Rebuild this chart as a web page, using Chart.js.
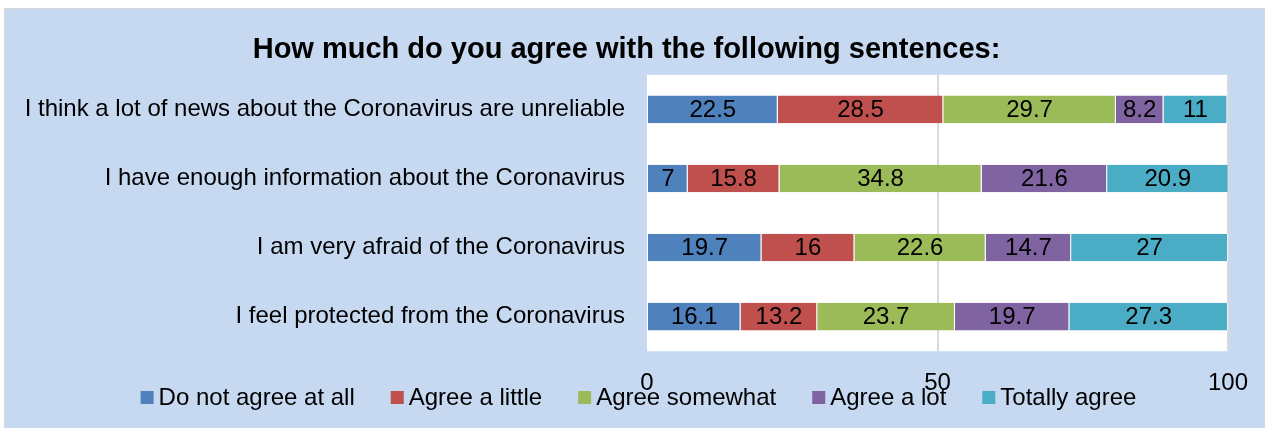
<!DOCTYPE html>
<html>
    <head>
        <meta charset="utf-8">
        <title>Coronavirus survey</title>
        <style>
            body { margin: 0; background: #ffffff; }
            .frame {
                position: absolute;
                left: 4px;
                top: 8px;
                width: 1259px;
                height: 419px;
                border: 1px solid #d9d9d9;
                border-bottom: none;
                background: #c6d9f1;
            }
        </style>
    </head>
    <body>
        <div class="frame">
            <canvas id="agree" width="1259" height="419"></canvas>
        </div>
        <script src="https://cdn.jsdelivr.net/npm/chart.js"></script>
        <script>
            // Survey answers, percent per statement
            const statements = [
                'I think a lot of news about the Coronavirus are unreliable',
                'I have enough information about the Coronavirus',
                'I am very afraid of the Coronavirus',
                'I feel protected from the Coronavirus'
            ];
            const doNotAgree = [22.5, 7, 19.7, 16.1];
            const agreeLittle = [28.5, 15.8, 16, 13.2];
            const agreeSomewhat = [29.7, 34.8, 22.6, 23.7];
            const agreeLot = [8.2, 21.6, 14.7, 19.7];
            const totallyAgree = [11, 20.9, 27, 27.3];
            const xTicks = [0, 50, 100];

            const font = 'Liberation Sans, Arial, sans-serif';

            // white plot area behind the bars
            const plotBackground = {
                id: 'plotBackground',
                beforeDraw(chart) {
                    const a = chart.chartArea;
                    const c = chart.ctx;
                    c.save();
                    c.fillStyle = '#ffffff';
                    c.fillRect(a.left, a.top, a.right - a.left, a.bottom - a.top);
                    c.restore();
                }
            };

            // numbers in the middle of every segment
            const segmentLabels = {
                id: 'segmentLabels',
                afterDatasetsDraw(chart) {
                    const c = chart.ctx;
                    c.save();
                    c.font = '24px ' + font;
                    c.fillStyle = '#000000';
                    c.textAlign = 'center';
                    c.textBaseline = 'middle';
                    chart.data.datasets.forEach((ds, i) => {
                        chart.getDatasetMeta(i).data.forEach((bar, j) => {
                            const p = bar.getProps(['x', 'y', 'base'], true);
                            c.fillText(ds.data[j], (p.x + p.base) / 2, p.y + 1);
                        });
                    });
                    c.restore();
                }
            };

            // compact legend row along the bottom edge
            const bottomLegend = {
                id: 'bottomLegend',
                afterDraw(chart) {
                    const c = chart.ctx;
                    const box = 13, gap = 5, spacing = 36;
                    c.save();
                    c.font = '24px ' + font;
                    c.textBaseline = 'alphabetic';
                    const items = chart.data.datasets.map(ds => ({
                        text: ds.label,
                        color: ds.backgroundColor,
                        w: box + gap + c.measureText(ds.label).width
                    }));
                    const total = items.reduce((s, it) => s + it.w, 0) + spacing * (items.length - 1);
                    let x = chart.width / 2 + 4 - total / 2;
                    const baseY = 396;
                    items.forEach(it => {
                        c.fillStyle = it.color;
                        c.fillRect(x, baseY - 14, box, box);
                        c.fillStyle = '#000000';
                        c.fillText(it.text, x + box + gap, baseY);
                        x += it.w + spacing;
                    });
                    c.restore();
                }
            };

            function series(label, data, color) {
                return {
                    label: label,
                    data: data,
                    backgroundColor: color,
                    borderColor: 'rgba(255,255,255,0.55)',
                    borderWidth: { right: 1 },
                    borderSkipped: false,
                    barPercentage: 0.4,
                    categoryPercentage: 1.0
                };
            }

            let ctx = document.querySelector('#agree').getContext('2d');
            let chart = new Chart(ctx, {
                type: 'bar',
                data: {
                    labels: statements,
                    datasets: [
                        series('Do not agree at all', doNotAgree, '#4f81bd'),
                        series('Agree a little', agreeLittle, '#c0504d'),
                        series('Agree somewhat', agreeSomewhat, '#9bbb59'),
                        series('Agree a lot', agreeLot, '#8064a2'),
                        series('Totally agree', totallyAgree, '#4bacc6')
                    ]
                },
                options: {
                    indexAxis: 'y',
                    responsive: false,
                    animation: false,
                    devicePixelRatio: 1,
                    layout: {
                        padding: { left: 20, right: 36, top: 0, bottom: 12 }
                    },
                    scales: {
                        x: {
                            stacked: true,
                            min: 0,
                            max: 100,
                            afterBuildTicks(axis) {
                                axis.ticks = xTicks.map(v => ({ value: v }));
                            },
                            // the "100" label may hang past the plot edge
                            afterFit(axis) {
                                axis.paddingRight = 0;
                            },
                            grid: {
                                drawTicks: false,
                                lineWidth: 2,
                                color: c => c.tick && c.tick.value === 0 ? 'rgba(0,0,0,0)' : '#d9d9d9'
                            },
                            border: { display: false },
                            ticks: {
                                padding: 18,
                                color: '#000000',
                                font: { family: font, size: 24 }
                            }
                        },
                        y: {
                            stacked: true,
                            // long statements need more than half the width
                            afterFit(axis) {
                                axis.width = 622;
                            },
                            grid: { display: false, drawTicks: false },
                            border: { display: false },
                            ticks: {
                                padding: 22,
                                color: '#000000',
                                font: { family: font, size: 24 }
                            }
                        }
                    },
                    plugins: {
                        title: {
                            display: true,
                            text: 'How much do you agree with the following sentences:',
                            color: '#000000',
                            font: { family: font, size: 29, weight: 'bold' },
                            padding: { top: 24, bottom: 7 }
                        },
                        legend: { display: false },
                        tooltip: { enabled: false }
                    }
                },
                plugins: [plotBackground, segmentLabels, bottomLegend]
            });
        </script>
    </body>
</html>
